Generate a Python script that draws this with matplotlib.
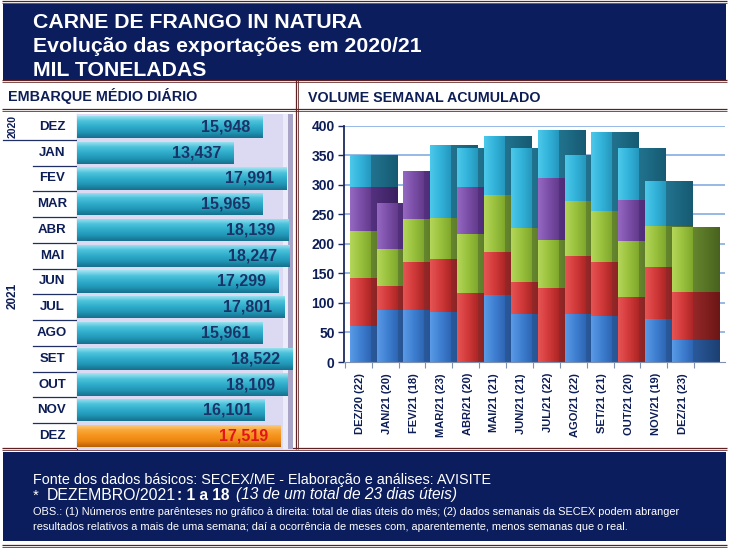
import numpy as np
import matplotlib
matplotlib.use('Agg')
import matplotlib.pyplot as plt
from matplotlib.colors import LinearSegmentedColormap
from matplotlib.patches import Rectangle

plt.rcParams['font.family'] = ['Liberation Sans', 'DejaVu Sans']

# ---------------- data ----------------
left_labels = ['DEZ', 'JAN', 'FEV', 'MAR', 'ABR', 'MAI', 'JUN', 'JUL', 'AGO', 'SET', 'OUT', 'NOV', 'DEZ']
daily_avg = [15.948, 13.437, 17.991, 15.965, 18.139, 18.247, 17.299, 17.801, 15.961, 18.522, 18.109, 16.101, 17.519]

months = ['DEZ/20 (22)', 'JAN/21 (20)', 'FEV/21 (18)', 'MAR/21 (23)', 'ABR/21 (20)', 'MAI/21 (21)',
          'JUN/21 (21)', 'JUL/21 (22)', 'AGO/21 (22)', 'SET/21 (21)', 'OUT/21 (20)', 'NOV/21 (19)', 'DEZ/21 (23)']
week1 = [61, 88, 88, 85, 0, 113, 82, 0, 82, 78, 0, 72, 38]
week2 = [82, 41, 81, 90, 117, 73, 54, 126, 98, 92, 110, 89, 81]
week3 = [78, 63, 73, 68, 100, 96, 90, 81, 93, 86, 95, 69, 109]
week4 = [76, 77, 82, 0, 79, 0, 0, 104, 0, 0, 69, 0, 0]
week5 = [54, 0, 0, 124, 67, 101, 137, 81, 78, 133, 88, 76, 0]
y_ticks = [0, 50, 100, 150, 200, 250, 300, 350, 400]

# ---------------- styling ----------------
NAVY = '#0b1d5c'
TXT = '#0d1d56'
MAROON = '#5e2020'
W, H = 729, 551

fig = plt.figure(figsize=(7.29, 5.51), dpi=100)
fig.patch.set_facecolor('white')


def fr(l, t, r, b):
    return [l / W, 1 - b / H, (r - l) / W, (b - t) / H]


def grad(ax, patch, colors, direction, z):
    x0, y0 = patch.get_x(), patch.get_y()
    w, h = patch.get_width(), patch.get_height()
    if w == 0 or h == 0:
        return
    n = 64
    if direction == 'h':
        arr = np.linspace(0, 1, n).reshape(1, n)
    else:
        arr = np.linspace(0, 1, n).reshape(n, 1)
    cmap = LinearSegmentedColormap.from_list('g', colors)
    im = ax.imshow(arr, extent=(x0, x0 + w, y0, y0 + h), origin='lower', cmap=cmap,
                   aspect='auto', zorder=z, interpolation='bilinear')
    im.set_clip_path(patch)


# ---------------- background / frame ----------------
bg = fig.add_axes([0, 0, 1, 1])
bg.set_xlim(0, W)
bg.set_ylim(H, 0)
bg.axis('off')
bg.set_zorder(0)


def hl2(y, x0=2, x1=727):
    bg.plot([x0, x1], [y, y], color=MAROON, lw=0.9, solid_capstyle='butt')
    bg.plot([x0, x1], [y + 2.2, y + 2.2], color=MAROON, lw=0.7, alpha=0.8, solid_capstyle='butt')


def vl2(x, y0, y1):
    bg.plot([x, x], [y0, y1], color=MAROON, lw=0.9, solid_capstyle='butt')
    bg.plot([x + 2.2, x + 2.2], [y0, y1], color=MAROON, lw=0.7, alpha=0.8, solid_capstyle='butt')


hl2(0.8)
bg.add_patch(Rectangle((3, 4), 723, 75.5, color=NAVY, lw=0))
hl2(80)
hl2(108.5)
vl2(296.3, 80, 449)
hl2(448)
bg.add_patch(Rectangle((3, 452), 723, 89, color=NAVY, lw=0))
hl2(545)

# titles
bg.text(33, 28, 'CARNE DE FRANGO IN NATURA', color='white', fontsize=15.3, fontweight='bold', va='baseline')
bg.text(33, 52, 'Evolução das exportações em 2020/21', color='white', fontsize=15.3, fontweight='bold', va='baseline')
bg.text(33, 76, 'MIL TONELADAS', color='white', fontsize=15.3, fontweight='bold', va='baseline')
bg.text(8, 101.5, 'EMBARQUE MÉDIO DIÁRIO', color=TXT, fontsize=10.4, fontweight='bold', va='baseline')
bg.text(308, 101.5, 'VOLUME SEMANAL ACUMULADO', color=TXT, fontsize=10.3, fontweight='bold', va='baseline')

# footer
bg.text(33, 484, 'Fonte dos dados básicos: SECEX/ME - Elaboração e análises: AVISITE',
        color='white', fontsize=10.4, va='baseline')
renderer = fig.canvas.get_renderer()
pieces = [('*', {'fontsize': 10.6}, 33, 0), ('DEZEMBRO/2021', {'fontsize': 11.4}, 47, 0),
          (': 1 a 18', {'fontweight': 'bold', 'fontsize': 11.2}, None, 1),
          ('(13 de um total de 23 dias úteis)', {'style': 'italic', 'fontsize': 11.2}, None, 6)]
xcur = 33
for s, kw, xfix, gap in pieces:
    xpos = xfix if xfix is not None else xcur + gap
    t = bg.text(xpos, 499.5, s, color='white', va='baseline', **kw)
    xcur = t.get_window_extent(renderer).x1
bg.text(33, 515, 'OBS.: (1) Números entre parênteses no gráfico à direita: total de dias úteis do mês; '
        '(2) dados semanais da SECEX podem abranger', color='white', fontsize=7.9, va='baseline')
bg.text(33, 530, 'resultados relativos a mais de uma semana; daí a ocorrência de meses com, '
        'aparentemente, menos semanas que o real.', color='white', fontsize=7.9, va='baseline')

# ---------------- left chart ----------------
L_LEFT, L_TOP, L_RIGHT, L_BOT = 77, 114, 293, 449
row_h = (L_BOT - L_TOP) / 13
for k in range(1, 13):
    y = L_TOP + k * row_h
    x0 = 3 if k == 1 else 33
    bg.plot([x0, L_LEFT], [y, y], color='#1f2f66', lw=0.9)
bg.plot([L_LEFT, L_LEFT], [L_TOP, L_BOT], color='#1f2f66', lw=0.8)
for k, lab in enumerate(left_labels):
    bg.text(52, L_TOP + (k + 0.5) * row_h, lab, color=TXT, fontsize=9.5, fontweight='bold',
            ha='center', va='center')
bg.text(12.5, L_TOP + 0.5 * row_h, '2020', color=TXT, fontsize=7.5, fontweight='bold',
        rotation=90, ha='center', va='center')
bg.text(12.5, 296, '2021', color=TXT, fontsize=8.5, fontweight='bold',
        rotation=90, ha='center', va='center')

axL = fig.add_axes(fr(L_LEFT, L_TOP, L_RIGHT, L_BOT))
axL.set_zorder(1)
axL.set_facecolor('#dcd9f3')
axL.add_patch(Rectangle((0.955, 0), 0.02, 1, transform=axL.transAxes, color='#ecebfa', lw=0, zorder=0.5))
axL.add_patch(Rectangle((0.975, 0), 0.025, 1, transform=axL.transAxes, color='#a9a5c9', lw=0, zorder=0.5))
n = len(daily_avg)
bar_cols = ['#36b4d2'] * (n - 1) + ['#f7961e']
bars = axL.barh(range(n), daily_avg, height=0.86, color=bar_cols, lw=0, zorder=3)
for i, b in enumerate(bars):
    if i < n - 1:
        cols = ['#a6e6f2', '#4cc3dc', '#2fadca', '#2196b6', '#16708c']
    else:
        cols = ['#fdd08a', '#f9a93c', '#f5941c', '#ec8612', '#b85f06']
    grad(axL, b, cols, 'v', 3.5)
for i, v in enumerate(daily_avg):
    txt = f'{v:.3f}'.replace('.', ',')
    axL.annotate(txt, xy=(v, i), xytext=(-9, 0), textcoords='offset points', ha='right', va='center',
                 fontsize=11.5, fontweight='bold', color='#e3141b' if i == n - 1 else '#1b3468', zorder=5)
axL.set_xlim(0, (L_RIGHT - L_LEFT) / 11.64)
axL.set_ylim(n - 0.5, -0.5)
axL.set_xticks([])
axL.set_yticks([])
for s in axL.spines.values():
    s.set_visible(False)

# ---------------- right chart ----------------
axR = fig.add_axes(fr(344.3, 125.7, 725, 362))
axR.set_zorder(1)
axR.patch.set_alpha(0)
series = [week1, week2, week3, week4, week5]
front_cols = [['#5a9ae6', '#3f80d2', '#2e66b4'],
              ['#e65454', '#d33a3a', '#ad2626'],
              ['#b4d65a', '#9ac23e', '#7fa72c'],
              ['#9568c2', '#7c4fa9', '#633b8c'],
              ['#4cc8ea', '#33b3da', '#2697bd']]
side_cols = [['#2a5a9c', '#1c3f72'],
             ['#952828', '#6c1616'],
             ['#66862e', '#48621e'],
             ['#55317f', '#3a2060'],
             ['#22738f', '#165a72']]
x = np.arange(len(months))
FW = 0.78
DEPTH = 1.0
bottom = np.zeros(len(months))
seg = []
for s_idx, vals in enumerate(series):
    seg.append((s_idx, np.array(vals, dtype=float), bottom.copy()))
    bottom = bottom + np.array(vals, dtype=float)

for i in range(len(months)):
    zs = 2 + 2 * i
    zf = 3 + 2 * i
    for s_idx, vals, bot in seg:
        if vals[i] <= 0:
            continue
        sb = axR.bar(x[i] + FW / 2, vals[i], width=DEPTH, bottom=bot[i], align='edge',
                     color=side_cols[s_idx][0], lw=0, zorder=zs)[0]
        grad(axR, sb, side_cols[s_idx], 'h', zs + 0.3)
        fb = axR.bar(x[i], vals[i], width=FW, bottom=bot[i], color=front_cols[s_idx][1],
                     lw=0, zorder=zf)[0]
        grad(axR, fb, front_cols[s_idx], 'h', zf + 0.3)

axR.set_ylim(0, 400)
axR.set_xlim(-0.59, 13.58)
axR.set_yticks(y_ticks)
axR.set_yticklabels([str(t) for t in y_ticks], fontsize=10, fontweight='bold', color=TXT)
for t in y_ticks[1:]:
    axR.axhline(t, color='#8db3e2', lw=1.3, zorder=1)
axR.set_xticks(x)
axR.set_xticklabels(months, rotation=90, fontsize=8, fontweight='bold', color=TXT)
axR.tick_params(axis='x', length=0, pad=8)
axR.set_xticks(np.arange(len(months) + 1) - 0.57, minor=True)
axR.tick_params(axis='x', which='minor', length=4, color='#8090b0', width=0.8)
axR.tick_params(axis='y', length=4, color='#1c2a5e', width=1, pad=3)
for side in ['top', 'right']:
    axR.spines[side].set_visible(False)
axR.spines['left'].set_color('#1c2a5e')
axR.spines['left'].set_linewidth(1.3)
axR.spines['left'].set_zorder(40)
axR.spines['bottom'].set_color('#8090b0')
axR.spines['bottom'].set_linewidth(0.8)
axR.spines['bottom'].set_zorder(40)

fig.savefig('out.png', dpi=100)
